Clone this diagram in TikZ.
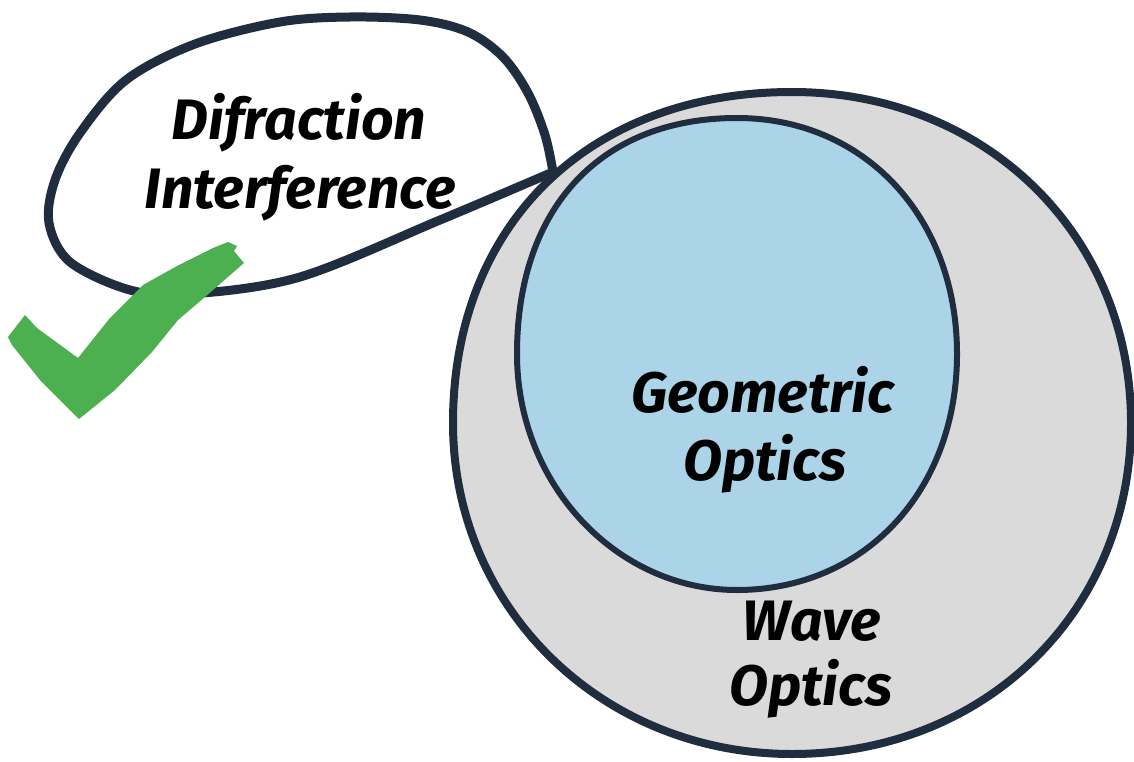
\documentclass[tikz,border=0pt]{standalone}
\usepackage{fontspec}
\setmainfont{Fira Sans}
\definecolor{navy}{HTML}{1F2D3F}
\definecolor{lgray}{HTML}{DADADA}
\definecolor{lblue}{HTML}{ACD4E8}
\definecolor{tick}{HTML}{4CAF50}
% egg-shaped closed path: cx, cy, rx, ry, kUL, kUR, kLR, kLL  (y axis points down)
\newcommand\myegg[8]{%
 ({#1-#3},#2) .. controls ({#1-#3},{#2-#5*#4}) and ({#1-#5*#3},{#2-#4}) .. (#1,{#2-#4})
 .. controls ({#1+#6*#3},{#2-#4}) and ({#1+#3},{#2-#6*#4}) .. ({#1+#3},#2)
 .. controls ({#1+#3},{#2+#7*#4}) and ({#1+#7*#3},{#2+#4}) .. (#1,{#2+#4})
 .. controls ({#1-#8*#3},{#2+#4}) and ({#1-#3},{#2+#8*#4}) .. ({#1-#3},#2) -- cycle}
\begin{document}
\begin{tikzpicture}[x=1pt,y=-1pt,
  outline/.style={draw=navy,line join=round,line cap=round},
  lbl/.style={font=\fontsize{57}{57}\selectfont\bfseries\itshape,anchor=base,inner sep=0pt,text=black}]
\useasboundingbox (0,0) rectangle (1134,762);
% speech bubble
\draw[outline,line width=9pt,fill=white] plot[smooth,tension=0.55] coordinates {
 (553,172) (545,135) (528,93) (503,57) (468,32) (420,20) (350,17) (280,22)
 (195,44) (126,80) (80,133) (55,180) (49,223) (70,262) (130,290) (190,294)
 (300,277) (440,220) (553,172)} -- cycle;
% outer circle
\draw[outline,line width=8pt,fill=lgray] \myegg{792}{423}{339}{331}{0.6}{0.57}{0.57}{0.56};
% inner circle
\draw[outline,line width=6pt,fill=lblue] \myegg{737}{354}{220}{236}{0.62}{0.58}{0.58}{0.55};
% check mark
\fill[tick] (8,337) -- (25,315) -- (37,328) -- (78,358) -- (110,318) -- (143,285)
 -- (177,266) -- (213,248) -- (228,242) -- (237,246) -- (234,251) -- (244,263)
 -- (205,297) -- (178,320) -- (152,352) -- (115,390) -- (79,419)
 -- (40,380) -- (12,345) -- cycle;
% labels
\node[lbl] (d1) at (299,140) {Difraction};
\node[lbl] (d2) at (300,208) {Interference};
\node[lbl] (g1) at (763,412) {Geometric};
\node[lbl] (g2) at (765,480) {Optics};
\node[lbl] (w1) at (812,640) {Wave};
\node[lbl] (w2) at (811,705) {Optics};
\end{tikzpicture}
\end{document}
